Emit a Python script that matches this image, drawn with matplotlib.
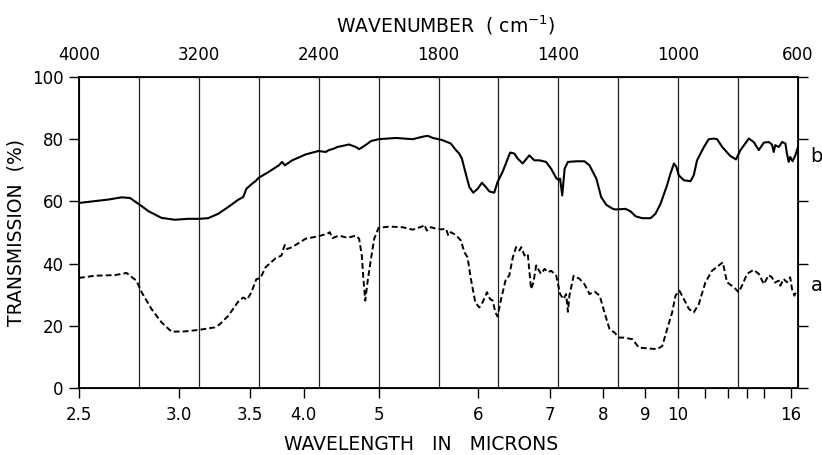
import numpy as np
from matplotlib import pyplot as plt

# wavenumber (cm-1) / transmission (%)
nu_b = [4000, 3893, 3804, 3716, 3660, 3627, 3582, 3538, 3449, 3360, 3271, 3198,
        3138, 3071, 3004, 2938, 2904, 2882, 2849, 2822, 2800, 2733, 2666, 2644,
        2626, 2577, 2487, 2402, 2353, 2331, 2297, 2275, 2197, 2152, 2130, 2096,
        2051, 2000, 1942, 1886, 1853, 1836, 1819, 1809, 1787, 1759, 1742, 1731,
        1722, 1709, 1697, 1684, 1669, 1655, 1642, 1630, 1614, 1603, 1586, 1561,
        1547, 1536, 1519, 1497, 1480, 1463, 1441, 1424, 1407, 1398, 1394, 1387,
        1379, 1368, 1340, 1313, 1296, 1273, 1257, 1240, 1218, 1209, 1176, 1159,
        1142, 1120, 1092, 1076, 1059, 1037, 1026, 1014, 1006, 998, 981, 959,
        948, 937, 914, 898, 881, 870, 853, 826, 807, 792, 764, 748, 731, 714,
        698, 687, 681, 676, 664, 653, 642, 637, 631, 626, 618, 609, 600]
t_b = [59.5, 60.1, 60.6, 61.3, 61.1, 60.0, 58.5, 56.9, 54.7, 54.1, 54.4, 54.4,
       54.6, 56.0, 58.2, 60.5, 61.4, 64.1, 65.5, 66.5, 67.6, 69.5, 71.6, 72.7,
       71.6, 73.2, 75.1, 76.2, 75.9, 76.5, 77.0, 77.5, 78.3, 77.5, 76.8, 77.8,
       79.4, 80.0, 80.4, 80.0, 80.8, 81.1, 80.4, 80.2, 79.7, 78.6, 76.5, 75.4,
       73.8, 68.9, 64.6, 62.8, 64.1, 66.0, 64.6, 63.2, 62.8, 66.2, 69.5, 75.7,
       75.4, 73.8, 72.2, 74.8, 73.2, 73.2, 72.7, 70.5, 67.5, 66.8, 67.3, 61.9,
       70.5, 72.7, 72.9, 72.9, 71.6, 67.3, 61.4, 58.9, 57.6, 57.4, 57.6, 56.8,
       55.2, 54.6, 54.6, 56.0, 59.2, 65.2, 68.9, 72.2, 71.1, 68.4, 66.8, 66.5,
       68.4, 73.2, 77.5, 80.0, 80.2, 80.0, 77.5, 74.6, 73.5, 76.5, 80.2, 79.1,
       76.5, 78.9, 79.1, 78.3, 75.9, 78.1, 77.5, 79.1, 78.6, 75.4, 72.7, 74.3,
       72.9, 74.8, 77.5]

nu_a = [4000, 3893, 3760, 3682, 3660, 3616, 3582, 3516, 3449, 3382, 3293, 3198,
        3093, 3060, 3004, 2938, 2904, 2878, 2849, 2816, 2789, 2755, 2688, 2648,
        2639, 2626, 2610, 2577, 2487, 2402, 2342, 2326, 2308, 2264, 2208, 2152,
        2130, 2112, 2103, 2089, 2074, 2051, 2029, 2000, 1964, 1920, 1886, 1853,
        1847, 1839, 1825, 1808, 1790, 1775, 1767, 1759, 1742, 1725, 1714, 1703,
        1692, 1677, 1664, 1653, 1638, 1628, 1619, 1610, 1603, 1591, 1575, 1564,
        1552, 1541, 1530, 1524, 1513, 1502, 1491, 1483, 1474, 1458, 1446, 1435,
        1424, 1407, 1394, 1383, 1374, 1368, 1363, 1349, 1329, 1313, 1296, 1279,
        1262, 1246, 1229, 1212, 1198, 1181, 1153, 1131, 1098, 1070, 1053, 1037,
        1020, 1009, 996, 981, 964, 948, 931, 909, 887, 864, 851, 837, 814, 798,
        787, 770, 748, 731, 714, 698, 687, 678, 664, 659, 648, 637, 626, 620,
        612, 603]
t_a = [35.4, 36.1, 36.3, 37.0, 36.1, 34.5, 30.8, 25.4, 21.1, 18.1, 18.2, 18.7,
       19.5, 20.5, 23.2, 27.7, 29.1, 28.4, 30.8, 35.0, 35.3, 38.8, 41.7, 42.6,
       44.2, 46.0, 44.7, 45.3, 48.0, 48.8, 49.6, 50.1, 48.2, 49.0, 48.3, 49.0,
       48.0, 42.6, 36.1, 28.1, 34.0, 41.5, 48.0, 51.5, 51.9, 51.7, 50.9, 52.0,
       52.5, 50.6, 51.7, 51.2, 51.0, 51.2, 49.0, 50.1, 49.2, 47.4, 43.7, 42.0,
       35.1, 27.5, 25.9, 27.5, 30.8, 28.6, 28.1, 24.3, 23.0, 28.6, 35.1, 36.1,
       42.0, 45.3, 44.2, 45.3, 42.6, 43.1, 31.8, 34.0, 39.4, 36.7, 38.3, 37.2,
       37.7, 36.1, 30.2, 28.6, 30.2, 24.5, 29.7, 36.1, 35.1, 33.4, 30.2, 31.0,
       29.7, 24.3, 18.9, 17.8, 16.2, 16.2, 15.7, 13.0, 12.7, 12.5, 13.5, 18.9,
       24.3, 29.7, 31.3, 28.6, 25.4, 24.3, 27.0, 34.0, 37.7, 39.4, 40.4, 34.0,
       32.4, 30.8, 32.9, 36.7, 38.0, 36.7, 33.4, 36.3, 35.6, 33.9, 34.5, 32.9,
       35.1, 34.0, 35.6, 31.8, 29.7, 31.6]

top_ticks = [4000, 3200, 2400, 1800, 1400, 1000, 600]
grid_nu = [3600, 3200, 2800, 2400, 2000, 1800, 1600, 1400, 1200, 1000, 800]
wl_major = [2.5, 3.0, 3.5, 4.0, 5, 6, 7, 8, 9, 10, 16]
wl_major_lbl = ['2.5', '3.0', '3.5', '4.0', '5', '6', '7', '8', '9', '10', '16']
wl_minor = [11, 12, 13, 14]


# chart paper scale: 400 cm-1 per division above 2000, 200 below
def fwd(nu):
    nu = np.asarray(nu, dtype=float)
    return np.where(nu >= 2000, (4000 - nu) / 400, 5 + (2000 - nu) / 200)


def inv(u):
    u = np.asarray(u, dtype=float)
    return np.where(u <= 5, 4000 - 400 * u, 2000 - 200 * (u - 5))


plt.rcParams['font.family'] = 'DejaVu Sans'
fig = plt.figure(figsize=(8.22, 4.55), dpi=100)
ax = fig.add_axes([79 / 822, 67 / 455, 719 / 822, 311 / 455])

ax.set_xscale('function', functions=(fwd, inv))
ax.set_xlim(600, 4000)
ax.set_ylim(0, 100)

for g in grid_nu:
    ax.axvline(g, color='#222222', lw=0.9, zorder=1)

ax.plot(nu_b, t_b, color='black', lw=1.5, zorder=3)
ax.plot(nu_a, t_a, color='black', lw=1.4, ls=(0, (3.0, 1.6)), zorder=3)

ax.set_xticks([1e4 / w for w in wl_major])
ax.set_xticklabels(wl_major_lbl)
ax.set_xticks([1e4 / w for w in wl_minor], minor=True)
ax.tick_params(axis='x', which='both', direction='out', length=7, width=1,
               labelsize=12, pad=6)

ax.set_yticks([0, 20, 40, 60, 80, 100])
ax.tick_params(axis='y', which='both', direction='out', length=7, width=1,
               labelsize=12, pad=4, right=True)
ax.yaxis.set_minor_locator(plt.NullLocator())

for s in ax.spines.values():
    s.set_linewidth(1.3)

ax2 = ax.twiny()
ax2.set_xscale('function', functions=(fwd, inv))
ax2.set_xlim(600, 4000)
ax2.set_xticks(top_ticks)
ax2.set_xticklabels([str(t) for t in top_ticks])
ax2.xaxis.set_minor_locator(plt.NullLocator())
ax2.tick_params(axis='x', length=0, labelsize=12, pad=9)

fig.text(446 / 822, 1 - 25 / 455, 'WAVENUMBER  ( cm$^{-1}$)', ha='center',
         va='center', fontsize=13.5)
fig.text(421 / 822, 1 - 445 / 455, 'WAVELENGTH   IN   MICRONS', ha='center',
         va='center', fontsize=13.5)
fig.text(16 / 822, 1 - 233 / 455, 'TRANSMISSION  (%)', ha='center',
         va='center', rotation=90, fontsize=13.5)

tr = ax.get_yaxis_transform()
ax.text(1.026, 74.3, 'b', transform=tr, ha='center', va='center', fontsize=14)
ax.text(1.026, 32.8, 'a', transform=tr, ha='center', va='center', fontsize=14)

fig.savefig('out.png', dpi=100)
